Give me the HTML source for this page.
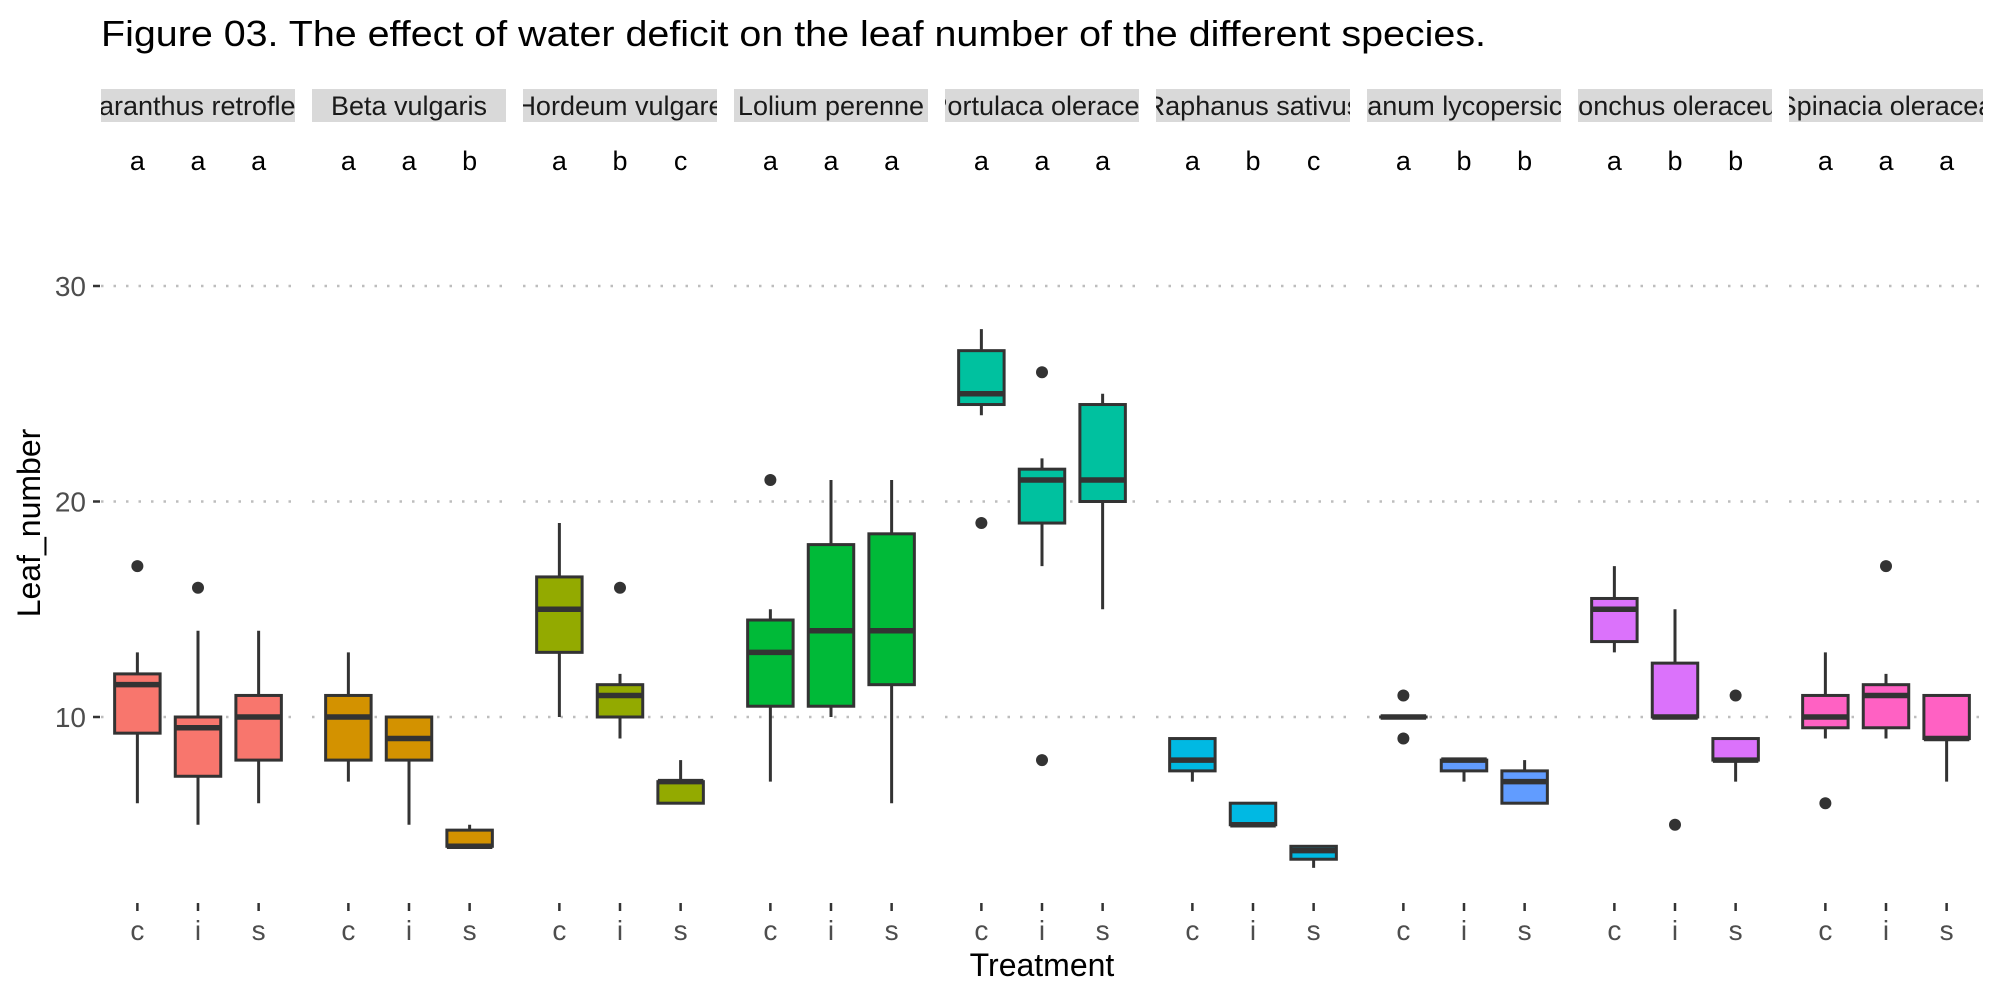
<!DOCTYPE html>
<html><head><meta charset="utf-8"><style>
html,body{margin:0;padding:0;background:#fff;}
svg{display:block;font-family:"Liberation Sans",Arial,sans-serif;}
</style></head><body>
<svg id="chart" width="2000" height="1000" viewBox="0 0 2000 1000" xmlns="http://www.w3.org/2000/svg">
<text x="101" y="46" font-size="36" fill="#000" textLength="1385" lengthAdjust="spacingAndGlyphs">Figure 03. The effect of water deficit on the leaf number of the different species.</text>
<text transform="translate(40,523) rotate(-90)" text-anchor="middle" font-size="32" fill="#000">Leaf_number</text>
<text x="1042" y="976" text-anchor="middle" font-size="32" fill="#000">Treatment</text>
<g id="yaxis"></g>
<g id="panels"></g>
</svg>
<script>
const species = ["Amaranthus retroflexus","Beta vulgaris","Hordeum vulgare","Lolium perenne","Portulaca oleracea","Raphanus sativus","Solanum lycopersicum","Sonchus oleraceus","Spinacia oleracea"];
const colors = ["#F8766D","#D39200","#93AA00","#00BA38","#00C19F","#00B9E3","#619CFF","#DB72FB","#FF61C3"];
const treatments = ["c","i","s"];
const yTicks = [10,20,30];
// per species: [c, i, s], each [lowWhisker, q1, median, q3, highWhisker]
const stats = [
 [[6,9.25,11.5,12,13],[5,7.25,9.5,10,14],[6,8,10,11,14]],
 [[7,8,10,11,13],[5,8,9,10,10],[4,4,4,4.75,5]],
 [[10,13,15,16.5,19],[9,10,11,11.5,12],[6,6,7,7,8]],
 [[7,10.5,13,14.5,15],[10,10.5,14,18,21],[6,11.5,14,18.5,21]],
 [[24,24.5,25,27,28],[17,19,21,21.5,22],[15,20,21,24.5,25]],
 [[7,7.5,8,9,9],[5,5,5,6,6],[3,3.4,3.8,4,4]],
 [[10,10,10,10,10],[7,7.5,8,8,8],[6,6,7,7.5,8]],
 [[13,13.5,15,15.5,17],[10,10,10,12.5,15],[7,8,8,9,9]],
 [[9,9.5,10,11,13],[9,9.5,11,11.5,12],[7,9,9,11,11]]
];
const outliers = [
 [[17],[16],[]],
 [[],[],[]],
 [[],[16],[]],
 [[21],[],[]],
 [[19],[26,8],[]],
 [[],[],[]],
 [[11,9],[],[]],
 [[],[5],[11]],
 [[6],[17],[]]
];
const letters = [
 ["a","a","a"],["a","a","b"],["a","b","c"],["a","a","a"],["a","a","a"],
 ["a","b","c"],["a","b","b"],["a","b","b"],["a","a","a"]
];

const NS="http://www.w3.org/2000/svg";
const P0=101, STEP=211, PW=194;
function y(v){return 717-(v-10)*21.55;}
function x(p,t){return P0+p*STEP+(t+1-0.4)/3.2*PW;}
const BW=0.75*PW/3.2;
function mk(tag,attrs,parent){const e=document.createElementNS(NS,tag);for(const k in attrs)e.setAttribute(k,attrs[k]);parent.appendChild(e);return e;}

const yaxis=document.getElementById('yaxis');
yTicks.forEach(v=>{
  const t=mk('text',{x:86,y:y(v)+10,'text-anchor':'end','font-size':28,fill:'#4D4D4D'},yaxis);
  t.textContent=v;
  
  
  const l=mk('line',{x1:93,x2:100,y1:y(v),y2:y(v),stroke:'#333','stroke-width':2.5},yaxis);
  
  
});

const panels=document.getElementById('panels');
species.forEach((sp,p)=>{
  const g=mk('g',{},panels);
  
  
  const px=P0+p*STEP;
  const cp=mk('clipPath',{id:'clip'+p},g);
  mk('rect',{x:px,y:89,width:PW,height:33},cp);
  const strip=mk('rect',{x:px,y:89,width:PW,height:33,fill:'#D9D9D9'},g);
  
  
  const st=mk('text',{x:px+PW/2,y:115,'text-anchor':'middle','font-size':27,fill:'#1A1A1A','clip-path':'url(#clip'+p+')'},g);
  st.textContent=sp;
  
  
  yTicks.forEach(v=>{
    const gl=mk('line',{x1:px,x2:px+PW,y1:y(v),y2:y(v),stroke:'#BDBDBD','stroke-width':2.5,'stroke-dasharray':'2.5 10'},g);
    
    
  });
  treatments.forEach((tr,t)=>{
    const cx=x(p,t);
    const s=stats[p][t];
    const lt=mk('text',{x:cx,y:170,'text-anchor':'middle','font-size':27,fill:'#000'},g);
    lt.textContent=letters[p][t];
    
    
    const w=mk('line',{x1:cx,x2:cx,y1:y(s[0]),y2:y(s[4]),stroke:'#333','stroke-width':3},g);
    
    
    const b=mk('rect',{x:cx-BW/2,y:y(s[3]),width:BW,height:Math.max(y(s[1])-y(s[3]),0.01),fill:colors[p],stroke:'#333','stroke-width':3},g);
    
    
    const m=mk('line',{x1:cx-BW/2,x2:cx+BW/2,y1:y(s[2]),y2:y(s[2]),stroke:'#333','stroke-width':5.5},g);
    
    
    outliers[p][t].forEach(o=>{
      const c=mk('circle',{cx:cx,cy:y(o),r:6,fill:'#333'},g);
      
      
    });
    const tk=mk('line',{x1:cx,x2:cx,y1:903,y2:911,stroke:'#333','stroke-width':2.5},g);
    
    
    const tl=mk('text',{x:cx,y:940,'text-anchor':'middle','font-size':28,fill:'#4D4D4D'},g);
    tl.textContent=tr;
    
    
  });
});
</script>
</body></html>
